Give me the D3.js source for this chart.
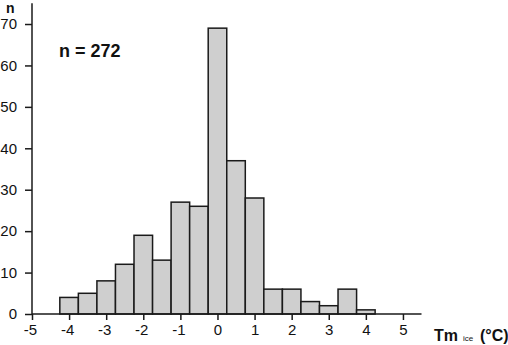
<!DOCTYPE html>
<html><head><meta charset="utf-8">
<script src="https://d3js.org/d3.v7.min.js"></script>
<style>body{margin:0;background:#fff}text{font-family:"Liberation Sans",Arial,sans-serif}</style>
</head><body><svg id="c" width="508" height="345"></svg>
<script>
const binCenters = [-4,-3.5,-3,-2.5,-2,-1.5,-1,-0.5,0,0.5,1,1.5,2,2.5,3,3.5,4];
const counts =     [4,5,8,12,19,13,27,26,69,37,28,6,6,3,2,6,1];
const binWidth = 0.5;
const xTicks = [-5,-4,-3,-2,-1,0,1,2,3,4,5];
const yTicks = [0,10,20,30,40,50,60,70];

const svg = d3.select("#c");
const x = d3.scaleLinear().domain([-5,5.5]).range([32,421.5]);
const y = d3.scaleLinear().domain([0,75]).range([314,3.3]);

svg.append("g").selectAll("rect").data(binCenters).join("rect")
  .attr("x",(d)=>x(d-binWidth/2))
  .attr("width",(d)=>x(d+binWidth/2)-x(d-binWidth/2))
  .attr("y",(d,i)=>y(counts[i]))
  .attr("height",(d,i)=>y(0)-y(counts[i]))
  .attr("fill","#cfcfcf").attr("stroke","#1a1a1a").attr("stroke-width",1.5);

const fmt = d => String(d);

// x axis
const xa = svg.append("g").attr("transform",`translate(0,${y(0)})`);
xa.call(d3.axisBottom(x).tickValues(d3.range(-5,5.51,0.5)).tickSize(6).tickFormat(""));
xa.call(d3.axisBottom(x).tickValues(xTicks).tickSize(6).tickPadding(4).tickFormat(fmt));
xa.selectAll("path.domain").attr("stroke","#1a1a1a").attr("stroke-width",1.5).attr("d",`M${x(-5)},0H${x(5.5)}`);
xa.selectAll(".tick line").attr("stroke","#1a1a1a").attr("stroke-width",1.5);
xa.selectAll("text").attr("font-size",15).attr("fill","#111").attr("font-family","Liberation Sans, Arial, sans-serif");
xa.selectAll(".tick text").filter(d=>d<0).attr("dx","-2");

// y axis
const ya = svg.append("g").attr("transform",`translate(${x(-5)},0)`);
ya.call(d3.axisLeft(y).tickValues(d3.range(5,75,10)).tickSize(4).tickFormat(""));
ya.call(d3.axisLeft(y).tickValues(yTicks).tickSize(7).tickPadding(8).tickFormat(fmt));
ya.selectAll("path.domain").attr("stroke","#1a1a1a").attr("stroke-width",1.5).attr("d",`M0,${y(0)}V${y(75)}`);
ya.selectAll(".tick line").attr("stroke","#1a1a1a").attr("stroke-width",1.5);
ya.selectAll("text").attr("font-size",15).attr("fill","#111").attr("font-family","Liberation Sans, Arial, sans-serif");

svg.append("text").attr("x",6).attr("y",13).attr("font-size",14).attr("font-weight","bold").attr("fill","#111").text("n");
svg.append("text").attr("x",59).attr("y",57).attr("font-size",18).attr("font-weight","bold").attr("fill","#111").text("n = 272");
const t = svg.append("text").attr("y",341).attr("font-size",16).attr("font-weight","bold").attr("fill","#111");
t.append("tspan").attr("x",434).text("Tm");
t.append("tspan").attr("x",463).attr("font-size",8).attr("font-weight","normal").text("ice");
t.append("tspan").attr("x",480).text("(°C)");
</script></body></html>
